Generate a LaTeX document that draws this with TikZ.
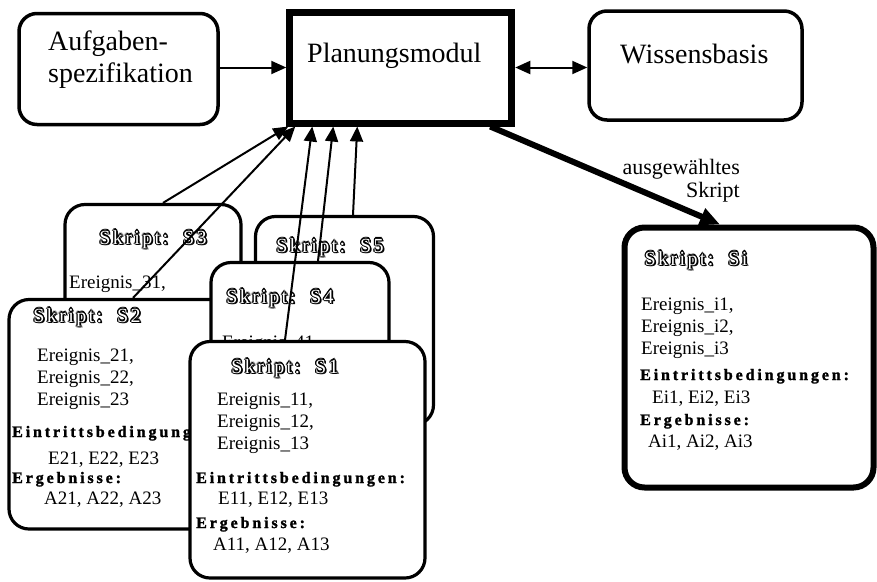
\documentclass[tikz,border=0pt]{standalone}
\usepackage{fontspec}
\setmainfont{Liberation Serif}
\newfontfamily\sperrfont[LetterSpace=18, BoldFeatures={FakeBold=1.5}]{Liberation Serif}
\newfontfamily\titelfont[LetterSpace=12]{Liberation Serif}
\usetikzlibrary{arrows.meta}

% Schattenschrift: schwarze Kopien rundherum, weiss darueber
\newcommand{\schatten}[1]{\leavevmode
  \rlap{\kern1.7pt\raisebox{-1.7pt}{#1}}%
  \foreach \dx/\dy in {1.2/0,-1.2/0,0/1.2,0/-1.2,.85/.85,.85/-.85,-.85/.85,-.85/-.85}{\rlap{\kern\dx pt\raisebox{\dy pt}{#1}}}%
  \textcolor{white}{#1}}

\tikzset{
  kasten/.style={draw, line width=3.5pt, rounded corners=18pt, inner sep=0pt},
  modul/.style={draw, line width=7pt, inner sep=0pt},
  skript/.style={draw, fill=white, line width=3.2pt, rounded corners=20pt, inner sep=0pt},
  gross/.style={font=\fontsize{28}{32}\selectfont, inner sep=0pt, anchor=base west, align=left},
  titel/.style={font=\titelfont\fontsize{20}{22}\selectfont, inner sep=0pt, anchor=base},
  zeile/.style={font=\fontsize{19}{22}\selectfont, inner sep=0pt, anchor=base west, align=left},
  kopf/.style={font=\sperrfont\bfseries\fontsize{16}{20}\selectfont, inner sep=0pt, anchor=base west},
  pfeil/.style={line width=2pt, -{Triangle[length=15pt,width=13pt]}},
  doppelpfeil/.style={line width=2pt, {Triangle[length=15pt,width=13pt]}-{Triangle[length=15pt,width=13pt]}},
  auswahl/.style={line width=6pt, -{Triangle[length=20pt,width=17pt]}},
}

\begin{document}
\begin{tikzpicture}[x=1pt, y=-1pt]
\useasboundingbox (0,0) rectangle (877,581);

% obere Reihe
\node[kasten, minimum width=199pt, minimum height=111pt] (aufg) at (118.5,69) {};
\node[gross] (aufgtext) at (48,82) {Aufgaben-\\spezifikation};
\node[modul, minimum width=222pt, minimum height=111pt] (plan) at (400.75,67.5) {};
\node[gross] (plantext) at (307,62) {Planungsmodul};
\node[kasten, minimum width=213pt, minimum height=109pt] (wiss) at (695.5,65.5) {};
\node[gross] (wisstext) at (620,63) {Wissensbasis};

% Skript S3
\node[skript, minimum width=176pt, minimum height=135.5pt] (s3) at (153,272.25) {};
\node[titel] (s3titel) at (153,244) {\schatten{Skript:\ \ S3}};
\node[zeile] (s3ereig) at (69,288) {Ereignis\_31,};

% Skript S2
\node[skript, minimum width=253pt, minimum height=229.5pt] (s2) at (135.5,414.25) {};
\node[titel] (s2titel) at (87,322) {\schatten{Skript:\ \ S2}};
\node[zeile] (s2ereig) at (37,405) {Ereignis\_21,\\Ereignis\_22,\\Ereignis\_23};
\node[kopf] (s2kopfe) at (12,437) {Eintrittsbedingungen:};
\node[zeile] (s2bed) at (48,464) {E21, E22, E23};
\node[kopf] (s2kopfa) at (12,483) {Ergebnisse:};
\node[zeile] (s2erg) at (44,504) {A21, A22, A23};

% Skript S5
\node[skript, minimum width=178pt, minimum height=208.5pt] (s5) at (344.5,320.75) {};
\node[titel] (s5titel) at (330,252) {\schatten{Skript:\ \ S5}};

% Skript S4
\node[skript, minimum width=178pt, minimum height=177.5pt] (s4) at (300,351.25) {};
\node[titel] (s4titel) at (280,303) {\schatten{Skript:\ \ S4}};
\node[zeile] (s4ereig) at (222,348) {Ereignis\_41,};

% Skript S1
\node[skript, minimum width=235pt, minimum height=236.5pt] (s1) at (307.5,459.75) {};
\node[titel] (s1titel) at (285,373) {\schatten{Skript:\ \ S1}};
\node[zeile] (s1ereig) at (217,449) {Ereignis\_11,\\Ereignis\_12,\\Ereignis\_13};
\node[kopf] (s1kopfe) at (196,483) {Eintrittsbedingungen:};
\node[zeile] (s1bed) at (218,504) {E11, E12, E13};
\node[kopf] (s1kopfa) at (196,528) {Ergebnisse:};
\node[zeile] (s1erg) at (213,550) {A11, A12, A13};

% ausgewaehltes Skript Si
\node[skript, line width=6pt, minimum width=249pt, minimum height=260pt] (si) at (749,357.5) {};
\node[titel] (sititel) at (696,265) {\schatten{Skript:\ \ Si}};
\node[zeile] (siereig) at (641,354) {Ereignis\_i1,\\Ereignis\_i2,\\Ereignis\_i3};
\node[kopf] (sikopfe) at (640,380) {Eintrittsbedingungen:};
\node[zeile] (sibed) at (652,403) {Ei1, Ei2, Ei3};
\node[kopf] (sikopfa) at (640,425) {Ergebnisse:};
\node[zeile] (sierg) at (648,447) {Ai1, Ai2, Ai3};

% Verbindungen
\draw[pfeil] (aufg.east |- plan.west) -- (plan.west);
\draw[doppelpfeil] (plan.east) -- (wiss.west |- plan.east);
\draw[pfeil] ([xshift=10pt]s3.north) -- ([xshift=2pt]plan.south west);
\draw[pfeil] ([xshift=-2.5pt]s2.north) -- ([xshift=9pt]plan.south west);
\draw[pfeil] ([xshift=-22.5pt]s1.north) -- ([xshift=26pt]plan.south west);
\draw[pfeil] ([xshift=18pt]s4.north) -- ([xshift=47pt]plan.south west);
\draw[pfeil] ([xshift=8.5pt]s5.north) -- ([xshift=71pt]plan.south west);
\draw[auswahl] ([xshift=-25pt]plan.south east) -- ([xshift=-29pt]si.north);
\node[font=\fontsize{22}{23}\selectfont, align=right, anchor=base east, inner sep=0pt] (auswahltext) at (740,197) {ausgewähltes\\Skript\hspace{3pt}};

\end{tikzpicture}
\end{document}
